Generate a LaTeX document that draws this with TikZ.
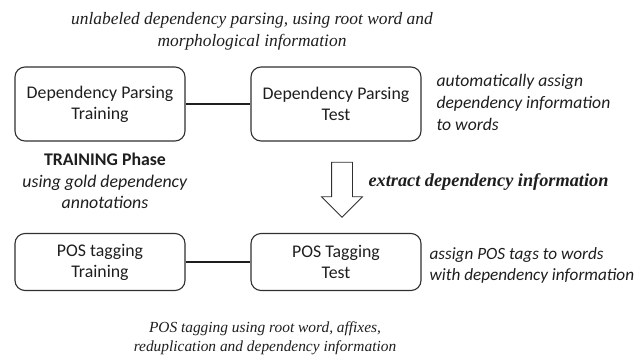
\documentclass[tikz,border=0pt]{standalone}
\usepackage{fontspec}
\setmainfont{Liberation Serif}
\newfontfamily\calib{Carlito}
\usetikzlibrary{shapes.arrows}

\definecolor{ink}{HTML}{1E1E1E}
\definecolor{frame}{HTML}{303030}

\tikzset{
  stagebox/.style={draw=frame, line width=1.1pt, rounded corners=10pt,
    minimum width=170pt, align=center, text=ink,
    font=\calib\fontsize{17.8}{21}\selectfont},
  tallbox/.style={stagebox, minimum height=74pt},
  shortbox/.style={stagebox, minimum height=57pt},
  link/.style={draw=ink, line width=2pt},
  serifnote/.style={align=center, text=ink, font=\itshape},
  sidenote/.style={align=left, anchor=west, text=ink,
    font=\calib\itshape\fontsize{17.6}{22}\selectfont},
  phasenote/.style={align=center, text=ink,
    font=\calib\fontsize{17.8}{21.5}\selectfont},
}

\begin{document}
\begin{tikzpicture}[x=1pt, y=-1pt]
  \useasboundingbox (0,0) rectangle (638,357);

  % caption above the parsing stage
  \node[serifnote, font=\itshape\fontsize{17.4}{22}\selectfont] (topnote) at (252,31)
    {unlabeled dependency parsing, using root word and\\morphological information};

  % dependency parsing stage
  \node[tallbox] (dptrain) at (100,104) {Dependency Parsing\\Training};
  \node[tallbox] (dptest)  at (336,104) {Dependency Parsing\\Test};
  \draw[link] (dptrain) -- (dptest);
  \node[sidenote] (dpnote) at (433,102)
    {automatically assign\\dependency information\\to words};

  % training phase remark
  \node[phasenote] (phase) at (105,181)
    {\textbf{TRAINING Phase}\\\textit{using gold dependency}\\\textit{annotations}};

  % hand-over between the stages
  \node[single arrow, draw=frame, line width=0.8pt, fill=white,
        rotate=-90, minimum height=55pt, minimum width=40pt,
        inner xsep=0pt, inner ysep=10pt,
        single arrow head extend=10pt, single arrow head indent=0pt]
        (handover) at (342,184.5) {};
  \node[anchor=west, text=ink, font=\bfseries\itshape\fontsize{18.3}{20}\selectfont]
        (extract) at (365,182) {extract dependency information};

  % POS tagging stage
  \node[shortbox] (postrain) at (100,262) {POS tagging\\Training};
  \node[shortbox] (postest)  at (336,262) {POS Tagging\\Test};
  \draw[link] (postrain) -- (postest);
  \node[sidenote, font=\calib\itshape\fontsize{17.2}{21}\selectfont] (posnote) at (426,265)
    {assign POS tags to words\\with dependency information};

  % caption below the tagging stage
  \node[serifnote, font=\itshape\fontsize{15.4}{19}\selectfont] (bottomnote) at (265,338)
    {POS tagging using root word, affixes,\\reduplication and dependency information};
\end{tikzpicture}
\end{document}
